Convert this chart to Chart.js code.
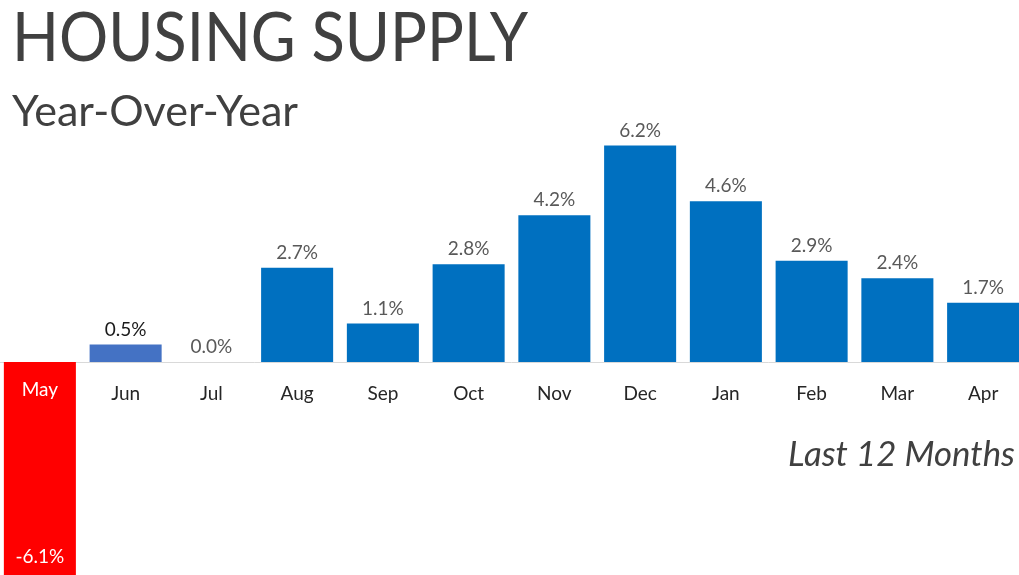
<!DOCTYPE html>
<html>
<head>
<meta charset="utf-8">
<script src="https://cdn.jsdelivr.net/npm/chart.js@4"></script>
<style>
html,body{margin:0;padding:0;width:1019px;height:575px;overflow:hidden;background:#fff;}
#wrap{position:absolute;left:-3px;top:0;width:1029px;height:575px;}
</style>
</head>
<body>
<div id="wrap"><canvas id="c"></canvas></div>
<script>
const categories = ["May","Jun","Jul","Aug","Sep","Oct","Nov","Dec","Jan","Feb","Mar","Apr"];
const values = [-6.1, 0.5, 0.0, 2.7, 1.1, 2.8, 4.2, 6.2, 4.6, 2.9, 2.4, 1.7];
const valueLabels = ["-6.1%","0.5%","0.0%","2.7%","1.1%","2.8%","4.2%","6.2%","4.6%","2.9%","2.4%","1.7%"];
const titleText = "HOUSING SUPPLY";
const subtitleText = "Year-Over-Year";
const noteText = "Last 12 Months";

const barColors = values.map((v,i)=> v < 0 ? "#FF0000" : (i === 1 ? "#4472C4" : "#0070C0"));
const FONT = "Lato, 'Open Sans', sans-serif";

function fitText(ctx, text, x, y, w, font, color){
  ctx.save();
  ctx.font = font;
  ctx.fillStyle = color;
  ctx.textAlign = "left";
  ctx.textBaseline = "alphabetic";
  const m = ctx.measureText(text).width;
  ctx.translate(x, y);
  ctx.scale(w / m, 1);
  ctx.fillText(text, 0, 0);
  ctx.restore();
}

const labelsPlugin = {
  id: "labelsPlugin",
  beforeDatasetsDraw(chart){
    const {ctx, chartArea, scales} = chart;
    const y0 = Math.round(scales.y.getPixelForValue(0)) + 0.5;
    ctx.save();
    ctx.strokeStyle = "#D9D9D9";
    ctx.lineWidth = 1;
    ctx.beginPath();
    ctx.moveTo(chartArea.left, y0);
    ctx.lineTo(chartArea.right, y0);
    ctx.stroke();
    ctx.restore();
  },
  afterDatasetsDraw(chart){
    const {ctx, scales} = chart;
    const meta = chart.getDatasetMeta(0);
    const y0 = scales.y.getPixelForValue(0);
    const ox = 3; // canvas offset
    ctx.save();
    ctx.textAlign = "center";
    meta.data.forEach((bar, i) => {
      const v = values[i];
      if (v >= 0) {
        ctx.font = "19px " + FONT;
        ctx.fillStyle = i === 1 ? "#1a1a1a" : "#595959";
        ctx.textBaseline = "alphabetic";
        ctx.fillText(valueLabels[i], bar.x, bar.y - 9);
        ctx.font = "19px " + FONT;
        ctx.fillStyle = "#262626";
        ctx.textBaseline = "middle";
        ctx.fillText(categories[i], bar.x, y0 + 32);
      } else {
        ctx.fillStyle = "#FFFFFF";
        ctx.font = "19px " + FONT;
        ctx.textBaseline = "middle";
        ctx.fillText(categories[i], bar.x, y0 + 28);
        ctx.font = "19px " + FONT;
        ctx.fillText(valueLabels[i], bar.x, bar.y - 18);
      }
    });
    ctx.restore();
    // titles
    fitText(ctx, titleText, 12 + ox, 61, 516, "67px " + FONT, "#404040");
    fitText(ctx, subtitleText, 12 + ox, 126, 286, "42px " + FONT, "#404040");
    fitText(ctx, noteText, 788 + ox, 466, 227, "italic 34px " + FONT, "#404040");
  }
};

new Chart(document.getElementById("c"), {
  type: "bar",
  data: {
    labels: categories,
    datasets: [{
      data: values,
      backgroundColor: barColors,
      borderWidth: 0,
      barPercentage: 1,
      categoryPercentage: 0.84
    }]
  },
  options: {
    responsive: true,
    maintainAspectRatio: false,
    animation: false,
    layout: { padding: 0 },
    plugins: { legend: { display: false }, tooltip: { enabled: false }, title: { display: false } },
    scales: {
      x: { display: false },
      y: { display: false, min: -6.1, max: 10.367 }
    }
  },
  plugins: [labelsPlugin]
});
</script>
</body>
</html>
